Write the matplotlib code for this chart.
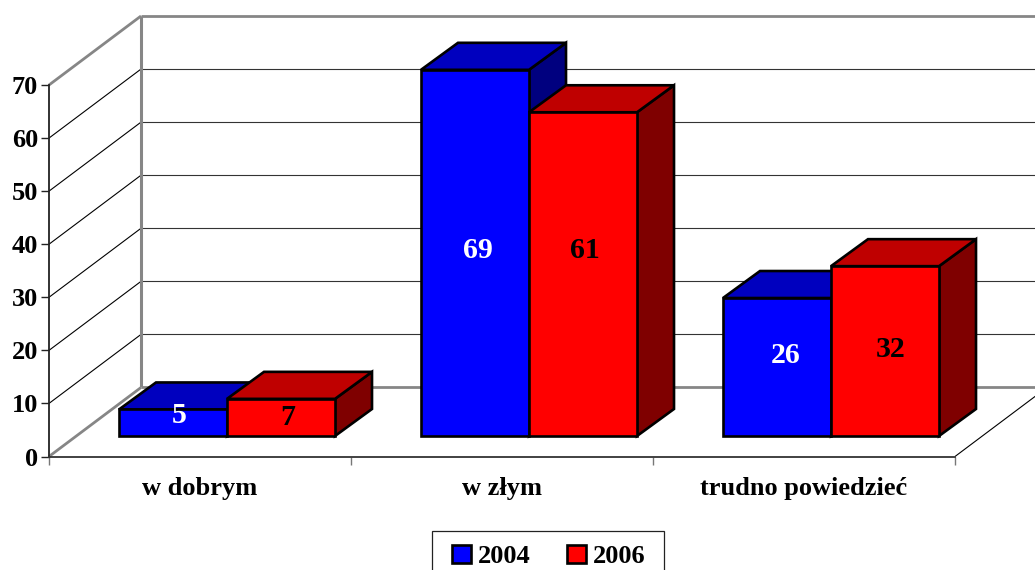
import matplotlib
matplotlib.use('Agg')
import matplotlib.pyplot as plt
from matplotlib.patches import Patch, Polygon, Rectangle

plt.rcParams['font.family'] = ['Liberation Serif', 'DejaVu Serif']
plt.rcParams['font.weight'] = 'bold'

categories = ['w dobrym', 'w złym', 'trudno powiedzieć']
years = ['2004', '2006']
values_2004 = [5, 69, 26]
values_2006 = [7, 61, 32]
y_ticks = [0, 10, 20, 30, 40, 50, 60, 70]

# label nudges in pixels, the original labels sit a bit off centre
label_nudge_2004 = [(6, 7), (3, 2), (9, 12)]
label_nudge_2006 = [(7, 0), (2, 24), (6, 2)]

W, H = 1035, 570
fig = plt.figure(figsize=(W / 100, H / 100), dpi=100, facecolor='white')
# axes is the front plane of the 3d box
ax = fig.add_axes([49 / W, 1 - 456.5 / H, 906 / W, 371.5 / H])
ax.set_xlim(0, 3)
ax.set_ylim(0, 70)
ax.patch.set_visible(False)

# depth of box and bars, in data units
wall_dx = 92 / 302
wall_dy = 69 / 5.307
bar_dx = 37 / 302
bar_dy = 27 / 5.307
bar_w = 108 / 302
bar_base = 20.5 / 5.307
bar_shift = 27 / 302


def line(xs, ys, color, lw, z=1):
    ax.plot(xs, ys, color=color, lw=lw, clip_on=False, zorder=z, solid_capstyle='butt')


# walls and grid
for t in y_ticks[1:-1]:
    line([0, wall_dx], [t, t + wall_dy], 'black', 0.8)
    line([wall_dx, 3 + wall_dx], [t + wall_dy, t + wall_dy], '#333333', 0.8)
line([3, 3 + wall_dx], [0, wall_dy], 'black', 0.8)
line([0, wall_dx], [0, wall_dy], '#868686', 2)
line([0, wall_dx], [70, 70 + wall_dy], '#868686', 2)
line([wall_dx, wall_dx], [wall_dy, 70 + wall_dy], '#868686', 2.2)
line([wall_dx, 3 + wall_dx], [wall_dy, wall_dy], '#868686', 2)
line([wall_dx, 3 + wall_dx], [70 + wall_dy, 70 + wall_dy], '#868686', 2)


def bar3d(x, val, front, top, side):
    y0 = bar_base
    y1 = bar_base + val
    x1 = x + bar_w
    kw = dict(edgecolor='black', lw=1.9, joinstyle='miter', clip_on=False, zorder=3)
    ax.add_patch(Polygon([(x1, y0), (x1 + bar_dx, y0 + bar_dy), (x1 + bar_dx, y1 + bar_dy), (x1, y1)],
                         facecolor=side, **kw))
    ax.add_patch(Polygon([(x, y1), (x + bar_dx, y1 + bar_dy), (x1 + bar_dx, y1 + bar_dy), (x1, y1)],
                         facecolor=top, **kw))
    ax.add_patch(Polygon([(x, y0), (x1, y0), (x1, y1), (x, y1)], facecolor=front, **kw))


for i in range(len(categories)):
    left = i + 0.5 + bar_shift - bar_w
    bar3d(left, values_2004[i], '#0000FF', '#0000BF', '#00007F')
    bar3d(left + bar_w, values_2006[i], '#FF0000', '#BF0000', '#7F0000')

    ax.annotate(str(values_2004[i]), (left + bar_w / 2, bar_base + values_2004[i] / 2),
                xytext=(label_nudge_2004[i][0] * 0.72, label_nudge_2004[i][1] * 0.72),
                textcoords='offset points', ha='center', va='center', color='white',
                fontsize=21.5, fontweight='bold', zorder=5)
    ax.annotate(str(values_2006[i]), (left + bar_w * 1.5, bar_base + values_2006[i] / 2),
                xytext=(label_nudge_2006[i][0] * 0.72, label_nudge_2006[i][1] * 0.72),
                textcoords='offset points', ha='center', va='center', color='black',
                fontsize=21.5, fontweight='bold', zorder=5)

# axes
for s in ['top', 'right']:
    ax.spines[s].set_visible(False)
ax.spines['left'].set_color('#222222')
ax.spines['bottom'].set_color('#333333')
ax.spines['left'].set_linewidth(1.3)
ax.spines['bottom'].set_linewidth(1.3)
ax.set_yticks(y_ticks)
ax.tick_params(axis='y', length=6, width=1, color='#222222', labelsize=19, pad=2)
ax.set_xticks([0, 1, 2, 3])
ax.set_xticklabels([])
ax.tick_params(axis='x', length=6, width=1, color='#777777')
ax.set_xticks([0.5, 1.5, 2.5], minor=True)
ax.set_xticklabels(categories, minor=True, fontsize=19, fontweight='bold')
ax.tick_params(axis='x', which='minor', length=0, pad=15)

# legend box runs off the bottom of the picture like the original
fig.add_artist(Rectangle((432 / W, -0.02), 232 / W, (1 - 531 / H) + 0.02, transform=fig.transFigure,
                         facecolor='white', edgecolor='#222222', lw=0.9))
handles = [Patch(facecolor='#0000FF', edgecolor='black', lw=1.9),
           Patch(facecolor='#FF0000', edgecolor='black', lw=1.9)]
leg = fig.legend(handles, years, loc='upper left', bbox_to_anchor=(452 / W, 1 - 544.5 / H),
                 ncol=2, frameon=False, fontsize=19, handlelength=0.72, handleheight=0.72,
                 handletextpad=0.25, columnspacing=1.4, borderpad=0, borderaxespad=0)

fig.savefig('out.png', dpi=100)
